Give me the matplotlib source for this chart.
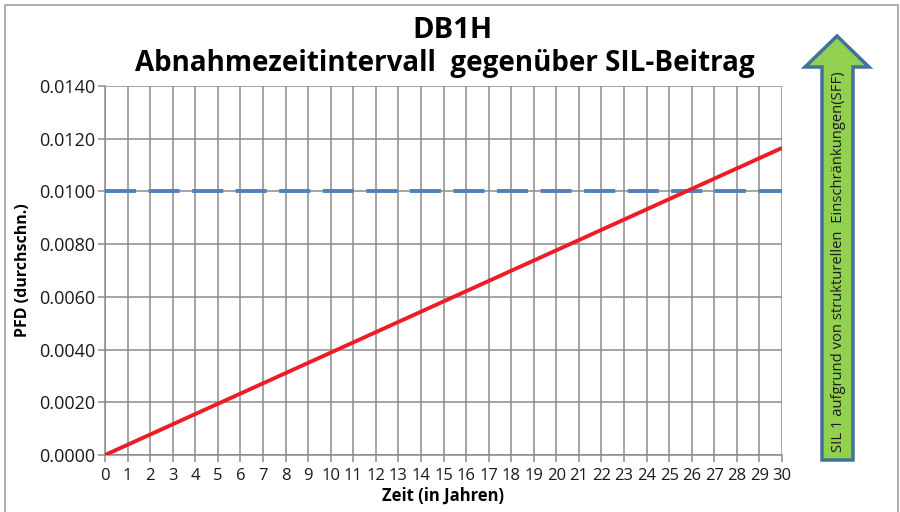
import numpy as np
import matplotlib
matplotlib.use('Agg')
import matplotlib.pyplot as plt
from matplotlib.patches import Polygon, Rectangle

# Daten
jahre = [0, 30]                  # Zeit (in Jahren)
pfd = [0.0, 0.01165]             # PFD (durchschn.)
sil_grenze = 0.0100              # Grenze SIL 1
x_ticks = list(range(0, 31))
y_ticks = [0.0, 0.002, 0.004, 0.006, 0.008, 0.010, 0.012, 0.014]

plt.rcParams['font.family'] = ['Open Sans', 'DejaVu Sans']

fig = plt.figure(figsize=(9, 5.12), dpi=100)
ax = fig.add_axes([105/900, 1-455/512, 677/900, 369/512])

ax.plot(jahre, pfd, color='#ee1c25', lw=2.8, zorder=4, solid_capstyle='butt')
ax.axhline(sil_grenze, color='#4f81bd', lw=2.8, dashes=(8, 3.2), zorder=3)

ax.set_xlim(0, 30)
ax.set_ylim(0, 0.014)
ax.set_xticks(x_ticks)
ax.set_yticks(y_ticks)
ax.set_yticklabels(['%.4f' % v for v in y_ticks])
ax.grid(True, color='#8c8c8c', lw=1.1)
ax.set_axisbelow(True)
for s in ['top', 'right']:
    ax.spines[s].set_visible(False)
for s in ['left', 'bottom']:
    ax.spines[s].set_color('#8c8c8c')
    ax.spines[s].set_linewidth(1.1)
ax.tick_params(axis='both', colors='#8c8c8c', length=5, width=1.1, labelcolor='#1a1a1a')
ax.tick_params(axis='y', labelsize=13, pad=2)
ax.tick_params(axis='x', labelsize=12, pad=4)

ax.set_xlabel('Zeit (in Jahren)', fontsize=12, fontweight='bold', labelpad=2)
ax.set_ylabel('PFD (durchschn.)', fontsize=11.5, fontweight='bold', labelpad=6)

fig.text(452/900, 1-30/512, 'DB1H', ha='center', va='center', fontsize=21, fontweight='bold')
fig.text(445/900, 1-64/512, 'Abnahmezeitintervall  gegenüber SIL-Beitrag', ha='center', va='center',
         fontsize=20, fontweight='bold')

# Rahmen
fig.add_artist(Rectangle((5/900, -0.01), 893/900, 1.0 - 5/512 + 0.01, transform=fig.transFigure,
                         fill=False, edgecolor='#a0a0a0', lw=1.2))

# Pfeil
pts_px = [(837, 36), (869, 67), (853, 67), (853, 460), (822, 460), (822, 67), (805, 67)]
pts = [(x/900, 1 - y/512) for x, y in pts_px]
fig.add_artist(Polygon(pts, closed=True, transform=fig.transFigure, facecolor='#92d050',
                       edgecolor='#41719c', lw=2.5))
fig.text(838/900, 1-262/512, 'SIL 1 aufgrund von strukturellen  Einschränkungen(SFF)', rotation=90,
         ha='center', va='center', fontsize=10.6, color='#1a1a1a')

fig.savefig('out.png', dpi=100)
